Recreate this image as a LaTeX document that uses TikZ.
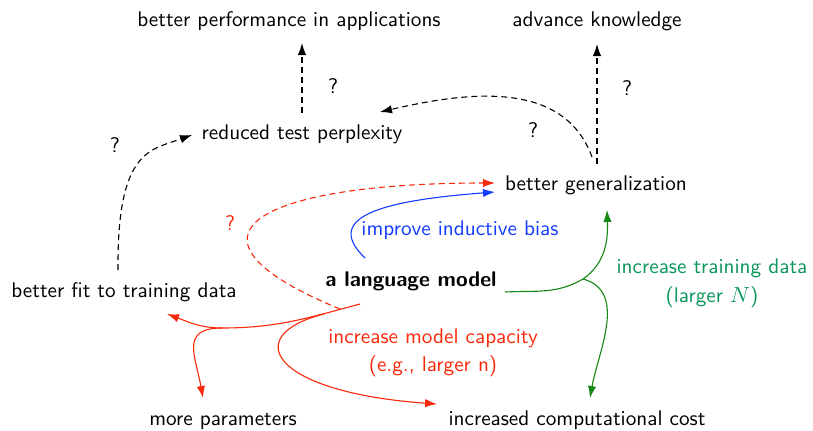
\documentclass[tikz,border=0pt]{standalone}
\usetikzlibrary{arrows.meta,calc}
\definecolor{myred}{RGB}{250,40,10}
\definecolor{myblue}{RGB}{20,60,255}
\definecolor{mygreenlab}{RGB}{10,150,90}
\definecolor{mygreen}{RGB}{20,135,20}
\tikzset{
  lbl/.style={anchor=base,inner sep=0pt,font=\fontsize{10.6}{12.7}\sffamily},
  con/.style={line width=0.55pt,-{Latex[length=6pt,width=4.2pt]}},
  dcon/.style={con,dash pattern=on 3pt off 2pt},
}
\begin{document}
\begin{tikzpicture}[x=0.5pt,y=0.5pt]
\useasboundingbox (0,0) rectangle (813,-430);
% nodes
\node[lbl] (bpa) at (289,-26) {better performance in applications};
\node[lbl] (ak) at (597,-26) {advance knowledge};
\node[lbl] (rtp) at (302,-139) {reduced test perplexity};
\node[lbl] (bg) at (596,-190) {better generalization};
\node[lbl,font=\fontsize{10.6}{12.7}\sffamily\bfseries] (lm) at (411,-286) {a language model};
\node[lbl] (bf) at (124,-297) {better fit to training data};
\node[lbl] (mp) at (223,-425) {more parameters};
\node[lbl] (icc) at (577,-425) {increased computational cost};
% labels
\node[lbl,text=myblue] (lib) at (460,-235) {improve inductive bias};
\node[lbl,text=myred] (lmc) at (433,-343) {increase model capacity};
\node[lbl,text=myred] (lmc2) at (433,-371) {(e.g., larger n)};
\node[lbl,text=mygreenlab] (ltd) at (712,-273) {increase training data};
\node[lbl,text=mygreenlab] (ltd2) at (712,-302) {(larger $N$)};
\node[lbl] (q1) at (333,-93) {?};
\node[lbl] (q2) at (627,-95) {?};
\node[lbl] (q3) at (533,-137) {?};
\node[lbl] (q4) at (115,-152) {?};
\node[lbl,text=myred] (q5) at (230,-230) {?};
% coordinates
\coordinate (r0) at ($(lm.base)+(-51,-18)$);
\coordinate (rm) at (222,-328);
\coordinate (rl) at (324,-314);
\coordinate (rd) at (340,-309);
\coordinate (gb) at (583,-279);
% black dashed
\draw[dcon] ($(rtp.base)+(0,26)$) -- ($(bpa.base)+(13,-17)$);
\draw[dcon] ($(bg.base)+(1,26)$) -- ($(ak.base)+(0,-18)$);
\draw[dcon] ($(bg.base)+(-4,33)$) to[out=110,in=13] ($(rtp.base)+(78,27)$);
\draw[dcon] ($(bf.base)+(-6,27)$) .. controls (117,-150) and (150,-150) .. ($(rtp.base)+(-110,4)$);
% red dashed
\draw[dcon,myred] (rd) .. controls (160,-235) and (260,-183) .. ($(bg.base)+(-101,7)$);
% blue
\draw[con,myblue] ($(lm.base)+(-46,28)$) .. controls (320,-215) and (390,-200) .. ($(bg.base)+(-101,-2)$);
% green
\draw[line width=0.55pt,mygreen] ($(lm.base)+(94,-6)$) to[out=3,in=210] (gb);
\draw[con,mygreen] (gb) to[out=35,in=-88] ($(bg.base)+(11,-20)$);
\draw[con,mygreen] (gb) to[out=-15,in=80] ($(icc.base)+(13,27)$);
% red solid
\draw[line width=0.55pt,myred] (r0) to[out=195,in=0] (rm);
\draw[con,myred] (rm) to[out=180,in=-20] ($(bf.base)+(43,-17)$);
\draw[con,myred] (rm) to[out=180,in=100,looseness=1.5] ($(mp.base)+(-20,27)$);
\draw[con,myred] (rl) .. controls (240,-335) and (270,-392) .. ($(icc.base)+(-140,21)$);
\end{tikzpicture}
\end{document}
